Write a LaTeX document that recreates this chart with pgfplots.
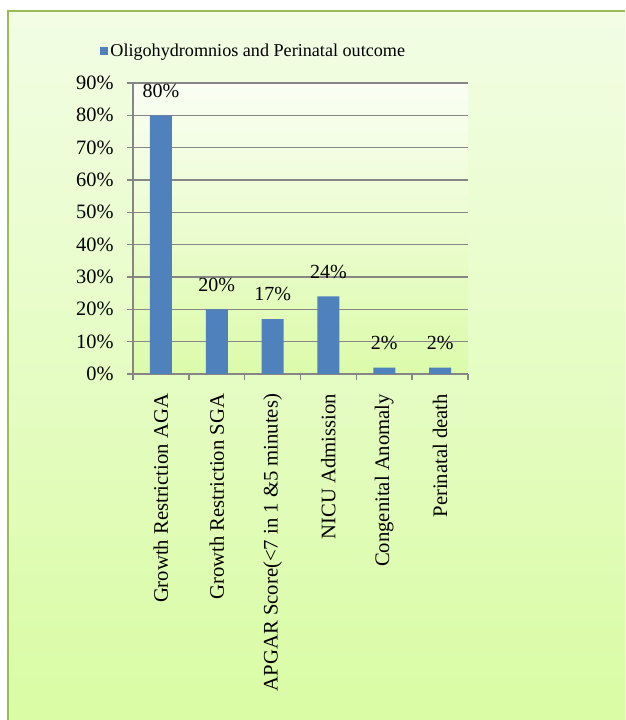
\documentclass[border=0pt]{standalone}
\usepackage{fontspec}
\setmainfont{Liberation Serif}
\usepackage{pgfplots}
\pgfplotsset{compat=1.18}
\definecolor{barblue}{RGB}{79,129,189}
\definecolor{gridgray}{RGB}{134,134,134}
\definecolor{framegreen}{RGB}{155,187,89}
\definecolor{bgtop}{RGB}{242,253,228}
\definecolor{bgbot}{RGB}{217,252,164}
\definecolor{plottop}{RGB}{250,254,244}
\definecolor{plotbot}{RGB}{220,251,170}

\begin{document}
\begin{tikzpicture}[x=0.75pt,y=0.75pt]
  \useasboundingbox (0,0) rectangle (625,720);
  \fill[white] (0,0) rectangle (625,720);
  \shade[top color=bgtop, bottom color=bgbot] (7,0) rectangle (625,709);
  \draw[framegreen, line width=1.5pt] (7.7,0) -- (7.7,709) -- (625,709);
  \begin{axis}[
      at={(99.75pt,259.5pt)}, anchor=south west,
      scale only axis, width=251.25pt, height=218.25pt,
      axis background/.style={shade, top color=plottop, bottom color=plotbot},
      ybar, bar width=16.5pt,
      xmin=-0.5, xmax=5.5, ymin=0, ymax=90,
      axis lines=left, axis line style={gridgray, line width=1.1pt, -},
      xtick={-0.5,0.5,1.5,2.5,3.5,4.5,5.5},
      xticklabels={},
      x tick style={gridgray, line width=1.1pt},
      extra x ticks={0,1,2,3,4,5},
      extra x tick labels={Growth Restriction AGA, Growth Restriction SGA,
        {APGAR Score(<7 in 1 \&5 minutes)}, NICU Admission,
        Congenital Anomaly, Perinatal death},
      extra x tick style={grid=none, tick style={draw=none},
        tick label style={font=\fontsize{15.5}{17}\selectfont,
          yshift=-7pt, rotate=90, anchor=east}},
      ytick={0,10,...,90},
      yticklabel={\pgfmathprintnumber{\tick}\%},
      y tick label style={font=\fontsize{15.3}{17}\selectfont, xshift=-6.5pt},
      /pgf/number format/assume math mode=true,
      tick align=outside, major tick length=4.5pt,
      y tick style={gridgray, line width=1.1pt},
      ymajorgrids, major grid style={gridgray, line width=1.1pt},
      nodes near coords={\pgfmathprintnumber{\pgfplotspointmeta}\%},
      every node near coord/.append style={font=\fontsize{15}{17}\selectfont,
        black, anchor=south, yshift=10pt},
      legend style={at={(-0.1,1.11)}, anchor=west, draw=none, fill=none,
        inner sep=0pt, font=\fontsize{13.6}{15}\selectfont},
      legend image code/.code={\fill[barblue] (0pt,-3pt) rectangle (6pt,3pt);},
    ]
    \addplot[fill=barblue, draw=none] coordinates {
      (0,80) (1,20) (2,17) (3,24) (4,2) (5,2)};
    \legend{Oligohydromnios and Perinatal outcome}
  \end{axis}
\end{tikzpicture}
\end{document}
